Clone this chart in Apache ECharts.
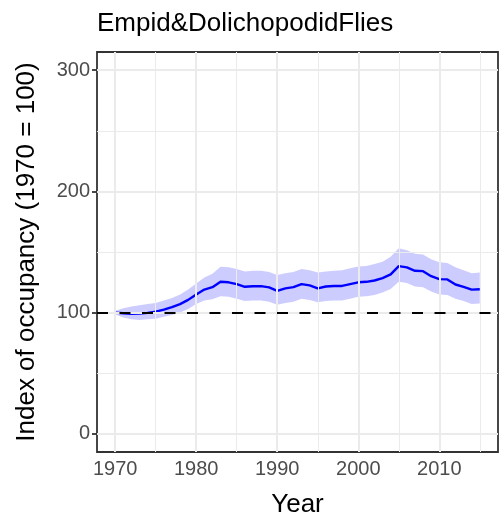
<!DOCTYPE html>
<html>
<head>
<meta charset="utf-8">
<script src="https://cdn.jsdelivr.net/npm/echarts@6/dist/echarts.min.js"></script>
<style>
  html, body { margin: 0; padding: 0; background: #ffffff; }
  #chart { width: 502px; height: 523px; }
</style>
</head>
<body>
<div id="chart"></div>
<script>
// Occupancy index for Empid & Dolichopodid flies, 1970 = 100
const years = [
  1970, 1971, 1972, 1973, 1974, 1975, 1976, 1977, 1978, 1979,
  1980, 1981, 1982, 1983, 1984, 1985, 1986, 1987, 1988, 1989,
  1990, 1991, 1992, 1993, 1994, 1995, 1996, 1997, 1998, 1999,
  2000, 2001, 2002, 2003, 2004, 2005, 2006, 2007, 2008, 2009,
  2010, 2011, 2012, 2013, 2014, 2015
];
const indexValues = [
  100, 99.5, 99, 99.2, 99.8, 100.8, 102.5, 104.5, 107, 110.5,
  115, 119, 121, 125.4, 125, 123.5, 121.3, 121.8, 121.8, 120.8,
  118, 120, 121, 123.5, 122.5, 120, 121.5, 122, 122, 123.5,
  125, 125.4, 126.5, 128.5, 131.5, 138.3, 137.3, 134.5, 134.2, 130,
  127.6, 127.4, 123.2, 121.3, 119, 119.3
];
const upperValues = [
  101.5, 103.5, 105, 106, 107, 108, 110, 112, 115, 119,
  124, 129, 132, 137.8, 137.5, 136, 134, 134.5, 134.5, 133.5,
  131, 132.5, 133.5, 136, 135, 133, 134, 134.5, 135, 136.5,
  138, 138.5, 140, 142, 146, 153, 151.5, 148.5, 148, 144,
  141.5, 141, 137.5, 135, 132.5, 133
];
const lowerValues = [
  98.5, 96, 94.5, 94, 94.5, 95, 96.5, 98, 100, 103,
  107, 110, 111, 113.5, 113, 111.5, 109.5, 110, 110, 109,
  106.5, 108, 109, 111.5, 110.5, 108.5, 109.5, 110, 110, 111.5,
  113, 113.5, 114.5, 116.5, 119.5, 125.5, 124.5, 121.5, 121, 117.5,
  115, 114.5, 111.5, 109.5, 107, 107.5
];

const xTicks = [1970, 1980, 1990, 2000, 2010];
const xMinorGrid = [1975, 1985, 1995, 2005, 2015];
const yTicks = [0, 100, 200, 300];
const yMinorGrid = [50, 150, 250];
const referenceLevel = 100;

const FONT = "'Liberation Sans', Arial, Helvetica, sans-serif";

const lineData = years.map((y, i) => [y, indexValues[i]]);

function gridLines(values, key, width) {
  return values.map(v => ({ [key]: v, lineStyle: { color: '#EBEBEB', width: width, type: 'solid' } }));
}

// Confidence ribbon: upper edge left to right, then lower edge back
function renderRibbon(params, api) {
  if (params.dataIndex !== 0) return null;
  const pts = [];
  for (let i = 0; i < years.length; i++) pts.push(api.coord([years[i], upperValues[i]]));
  for (let i = years.length - 1; i >= 0; i--) pts.push(api.coord([years[i], lowerValues[i]]));
  return {
    type: 'polygon',
    shape: { points: pts },
    style: { fill: 'rgba(0, 0, 255, 0.2)', stroke: 'none' },
    silent: true
  };
}

const chart = echarts.init(document.getElementById('chart'), null, { renderer: 'canvas' });

chart.setOption({
  animation: false,
  backgroundColor: '#ffffff',
  title: {
    text: 'Empid&DolichopodidFlies',
    left: 92,
    top: 6,
    textStyle: { fontFamily: FONT, fontSize: 26, fontWeight: 'normal', color: '#000000' }
  },
  grid: {
    left: 97, top: 52, width: 401, height: 401,
    show: true, borderColor: '#333333', borderWidth: 1.8, backgroundColor: 'transparent',
    containLabel: false
  },
  xAxis: {
    type: 'value',
    min: 1967.75,
    max: 2017.25,
    name: 'Year',
    nameLocation: 'middle',
    nameGap: 40,
    nameMoveOverlap: false,
    nameTextStyle: { fontFamily: FONT, fontSize: 26, color: '#000000' },
    axisLine: { show: false },
    splitLine: { show: false },
    axisTick: { show: true, customValues: xTicks, length: 5, lineStyle: { color: '#333333', width: 1.8 } },
    axisLabel: {
      customValues: xTicks, margin: 7, fontFamily: FONT, fontSize: 20, color: '#4D4D4D',
      formatter: v => String(v)
    }
  },
  yAxis: {
    type: 'value',
    min: -15,
    max: 315,
    name: 'Index of occupancy (1970 = 100)',
    nameLocation: 'middle',
    nameGap: 57,
    nameMoveOverlap: false,
    nameTextStyle: { fontFamily: FONT, fontSize: 26, color: '#000000' },
    axisLine: { show: false },
    splitLine: { show: false },
    axisTick: { show: true, customValues: yTicks, length: 5, lineStyle: { color: '#333333', width: 1.8 } },
    axisLabel: {
      customValues: yTicks, margin: 7, fontFamily: FONT, fontSize: 20, color: '#4D4D4D',
      formatter: v => String(v)
    }
  },
  series: [
    {
      // panel grid: minor and major lines
      name: 'panel-grid',
      type: 'line',
      z: 0,
      silent: true,
      symbol: 'none',
      data: [[years[0], indexValues[0]]],
      lineStyle: { opacity: 0 },
      markLine: {
        silent: true,
        symbol: 'none',
        label: { show: false },
        animation: false,
        data: [].concat(
          gridLines(xMinorGrid, 'xAxis', 1),
          gridLines(yMinorGrid, 'yAxis', 1),
          gridLines(xTicks, 'xAxis', 2),
          gridLines(yTicks, 'yAxis', 2)
        )
      }
    },
    {
      name: 'ribbon',
      type: 'custom',
      z: 1,
      silent: true,
      renderItem: renderRibbon,
      data: [[years[0], upperValues[0]]],
      clip: true
    },
    {
      name: 'index',
      type: 'line',
      z: 3,
      symbol: 'none',
      silent: true,
      data: lineData,
      lineStyle: { color: '#0000FF', width: 2.4 }
    },
    {
      name: 'reference',
      type: 'line',
      z: 4,
      symbol: 'none',
      silent: true,
      data: [[years[0], referenceLevel]],
      lineStyle: { opacity: 0 },
      markLine: {
        silent: true,
        symbol: 'none',
        label: { show: false },
        animation: false,
        data: [{ yAxis: referenceLevel, lineStyle: { color: '#000000', width: 2.2, type: [11, 11.5] } }]
      }
    }
  ]
});
</script>
</body>
</html>
